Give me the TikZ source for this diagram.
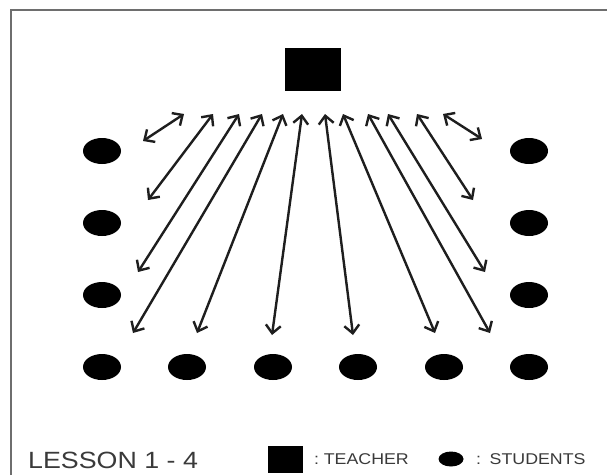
\documentclass[tikz,border=0pt]{standalone}
\usepackage{fontspec}
\setmainfont{Liberation Sans}[FakeStretch=1.14]
\usetikzlibrary{arrows.meta,shapes.geometric}
\definecolor{frame}{HTML}{6E6E6E}
\definecolor{ink}{HTML}{1E1E1E}
\definecolor{legendtext}{HTML}{3A3A3A}
\begin{document}
\begin{tikzpicture}[x=1pt,y=-1pt,
  student/.style={ellipse, fill=black, inner sep=0pt,
    minimum width=38pt, minimum height=26pt},
  teacherbox/.style={rectangle, fill=black, inner sep=0pt,
    minimum width=56pt, minimum height=43pt},
  link/.style={<->, draw=ink, line width=2.4pt,
    >={Straight Barb[length=8pt,width=15pt]}},
  legend/.style={inner sep=0pt, text=legendtext, anchor=base west}]
\useasboundingbox (0,0) rectangle (607,475);
\fill[white] (0,0) rectangle (607,475);
% frame: left and top edges only
\draw[frame, line width=1.8pt] (11,475) -- (11,10) -- (607,10);

% teacher
\node[teacherbox] (teacher) at (313,69.5) {};

% students: left column, right column, bottom row
\node[student] (l1) at (102,151) {};
\node[student] (l2) at (102,223) {};
\node[student] (l3) at (102,295) {};
\node[student] (r1) at (529,151) {};
\node[student] (r2) at (529,223) {};
\node[student] (r3) at (529,295) {};
\node[student] (f1) at (102,367) {};
\node[student] (f2) at (187,367) {};
\node[student] (f3) at (273,367) {};
\node[student] (f4) at (358,367) {};
\node[student] (f5) at (444,367) {};
\node[student] (f6) at (529,367) {};

% arrow ends near the teacher
\foreach \i/\x in {1/184,2/213,3/239,4/262,5/283,6/302,
                   7/325,8/343,9/368,10/388,11/417,12/443}
  \coordinate (t\i) at (\x,114);
% arrow ends near the students
\coordinate (b1) at (143,141);
\coordinate (b2) at (148,200);
\coordinate (b3) at (138,272);
\coordinate (b4) at (133,333);
\coordinate (b5) at (197,333);
\coordinate (b6) at (272,335);
\coordinate (b7) at (353,335);
\coordinate (b8) at (435,333);
\coordinate (b9) at (490,333);
\coordinate (b10) at (485,272);
\coordinate (b11) at (473,200);
\coordinate (b12) at (482,139);

\foreach \i in {1,...,12}
  \draw[link] (t\i) -- (b\i);

% legend
\node[legend, font=\fontsize{23.5}{28}\selectfont] (lesson) at (28,468) {LESSON 1 - 4};
\node[rectangle, fill=black, inner sep=0pt, minimum width=35pt,
  minimum height=27pt] (keyteacher) at (285.5,459.5) {};
\node[legend, font=\fontsize{15.6}{18}\selectfont] (teachertext) at (314,464) {:\hspace{0.3em}TEACHER};
\node[ellipse, fill=black, inner sep=0pt, minimum width=25pt,
  minimum height=15pt] (keystudent) at (451,459) {};
\node[legend, font=\fontsize{15.6}{18}\selectfont] (studenttext) at (476,464) {:\hspace{0.55em}STUDENTS};
\end{tikzpicture}
\end{document}
